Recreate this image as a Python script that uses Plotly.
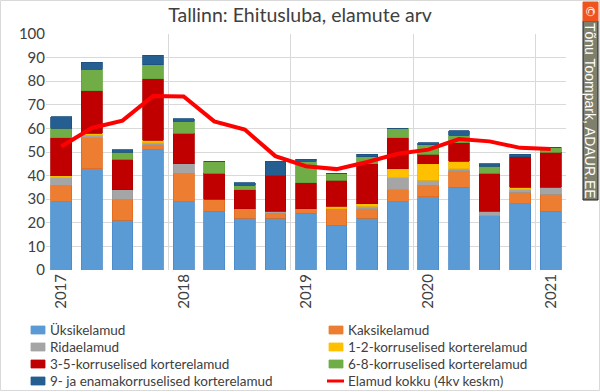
import plotly.graph_objects as go

# ---- data ----
quarters = list(range(17))  # 2017 Q1 ... 2021 Q1
year_ticks = [0, 4, 8, 12, 16]
year_labels = ["2017", "2018", "2019", "2020", "2021"]

uksik = [29, 43, 21, 51, 29, 25, 22, 22, 24, 19, 22, 29, 31, 35, 23, 28, 25]
kaksik = [7, 13, 9, 2, 12, 5, 4, 2, 2, 7, 4, 5, 5, 7, 0, 5, 7]
rida = [3, 1, 4, 1, 4, 0, 0, 1, 0, 0, 1, 5, 2, 1, 2, 1, 3]
k12 = [1, 1, 0, 1, 0, 0, 0, 0, 0, 1, 1, 4, 7, 3, 0, 1, 0]
k35 = [16, 18, 13, 26, 13, 11, 8, 15, 11, 11, 17, 13, 4, 8, 16, 13, 15]
k68 = [4, 9, 3, 6, 5, 5, 2, 0, 9, 3, 3, 4, 4, 3, 3, 0, 2]
k9 = [5, 3, 1, 4, 1, 0, 1, 6, 1, 0, 1, 0, 1, 2, 1, 1, 0]
kokku_avg = [52.3, 60.2, 63.3, 73.75, 73.5, 63, 59.5, 48.25, 44, 42.75,
             45.75, 49.25, 51, 55.5, 54.5, 51.75, 51.25]
line_name = "Elamud kokku (4kv keskm)"

series = [
    ("Üksikelamud", uksik, "#5B9BD5", "#4A8AC8"),
    ("Kaksikelamud", kaksik, "#ED7D31", "#E06A1E"),
    ("Ridaelamud", rida, "#A5A5A5", "#9A9A9A"),
    ("1-2-korruselised korterelamud", k12, "#FFC000", "#F0B000"),
    ("3-5-korruselised korterelamud", k35, "#C00000", "#B00000"),
    ("6-8-korruselised korterelamud", k68, "#70AD47", "#62A23A"),
    ("9- ja enamakorruselised korterelamud", k9, "#255E91", "#1C4F7E"),
]
LINE_COLOR = "#FF0000"

FONT = "Lato"
TXT = "#404040"

# plot-area geometry in pixels (for placing decorations)
L, R, T, B = 46, 566, 34, 270
W, H = R - L, B - T


def px(x):
    return (x - L) / W


def py(y):
    return (B - y) / H


fig = go.Figure()
for name, vals, col, edge in series:
    fig.add_trace(go.Bar(
        x=quarters, y=vals, name=name, showlegend=False,
        marker=dict(color=col, line=dict(color=edge, width=0.8)),
    ))

fig.add_trace(go.Scatter(
    x=quarters, y=kokku_avg, name=line_name, showlegend=False,
    mode="lines", line=dict(color=LINE_COLOR, width=4),
))

fig.update_layout(
    width=600, height=392,
    margin=dict(l=L, r=600 - R, t=T, b=392 - B),
    paper_bgcolor="white", plot_bgcolor="white",
    barmode="stack", bargap=0.32,
    font=dict(family=FONT, color=TXT, size=13),
    title=dict(text="Tallinn: Ehitusluba, elamute arv", x=0.5, xanchor="center",
               xref="container", y=1 - 15 / 392, yanchor="middle",
               yref="container",
               font=dict(family=FONT, size=19.5, color=TXT)),
    xaxis=dict(
        range=[-0.5, 16.5], tickmode="array", tickvals=year_ticks,
        ticktext=year_labels, tickangle=-90, showgrid=False, zeroline=False,
        showline=False, ticks="", automargin=False,
        tickfont=dict(family=FONT, size=15, color=TXT),
        minor=dict(tickmode="array", tickvals=[-0.5, 3.5, 7.5, 11.5, 15.5],
                   showgrid=True, gridcolor="#D9D9D9", gridwidth=1, ticks=""),
    ),
    yaxis=dict(
        range=[0, 100], dtick=10, showgrid=True, gridcolor="#D9D9D9",
        gridwidth=1, zeroline=False, showline=False, ticks="", automargin=False,
        tickfont=dict(family=FONT, size=15, color=TXT),
    ),
    showlegend=False,
)

# ---- legend (2 columns, 4 rows) drawn below the plot ----
legend_entries = [(s[0], s[2], "bar") for s in series] + [(line_name, LINE_COLOR, "line")]
row_y = [330, 347, 364, 381]
col_x = [31, 329]
for i, (name, col, kind) in enumerate(legend_entries):
    r, c = divmod(i, 2)
    x0 = col_x[c]
    yc = row_y[r]
    if kind == "bar":
        fig.add_shape(type="rect", xref="paper", yref="paper",
                      x0=px(x0), x1=px(x0 + 14), y0=py(yc + 4), y1=py(yc - 4),
                      fillcolor=col, line=dict(color=col, width=0.8))
    else:
        fig.add_shape(type="line", xref="paper", yref="paper",
                      x0=px(x0 - 2), x1=px(x0 + 15), y0=py(yc), y1=py(yc),
                      line=dict(color=col, width=3))
    fig.add_annotation(text=name, xref="paper", yref="paper",
                       x=px(x0 + 17), y=py(yc), xanchor="left", yanchor="middle",
                       showarrow=False,
                       font=dict(family=FONT, size=13.5, color=TXT))

# chart outer border
fig.add_shape(type="rect", xref="paper", yref="paper",
              x0=px(0.5), x1=px(599.5), y0=py(390.5), y1=py(0.5),
              line=dict(color="#D9D9D9", width=1), layer="below")

# watermark (drawn below so the annotation text sits on top)
fig.add_shape(type="rect", xref="paper", yref="paper", layer="below",
              x0=px(583), x1=px(598), y0=py(200), y1=py(21),
              fillcolor="#7F7F6E", line=dict(color="#202020", width=1))
fig.add_shape(type="rect", xref="paper", yref="paper", layer="below",
              x0=px(583), x1=px(598), y0=py(21), y1=py(2),
              fillcolor="#F0541E", line=dict(color="#F0541E", width=1))
fig.add_annotation(text="©", xref="paper", yref="paper", x=px(590.5), y=py(11.5),
                   xanchor="center", yanchor="middle",
                   showarrow=False, textangle=90,
                   font=dict(family="DejaVu Sans", size=13, color="white"))
fig.add_annotation(text="Tõnu Toompark, ADAUR.EE", xref="paper", yref="paper",
                   x=px(590.5), y=py(110.5), xanchor="center", yanchor="middle",
                   showarrow=False, textangle=90,
                   font=dict(family="Liberation Sans", size=14, color="white"))

# remove the browser's default 8px page margin so the figure fills the window
fig.write_html("out.html",
               config={"displayModeBar": False},
               post_script="document.body.style.margin='0';"
                           "document.body.style.overflow='hidden';")
